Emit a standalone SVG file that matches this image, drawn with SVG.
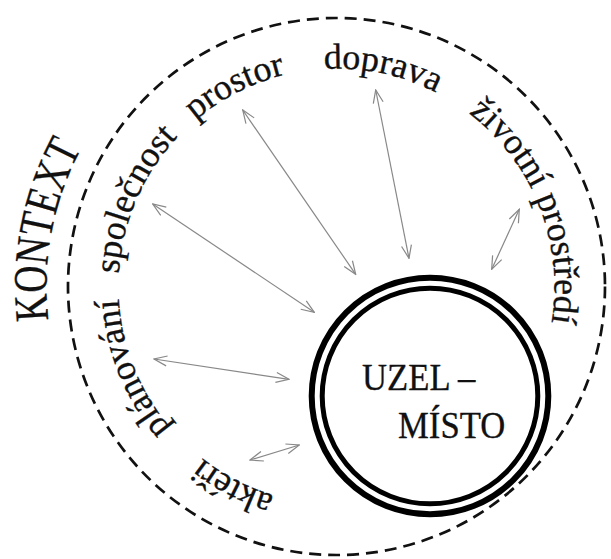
<svg xmlns="http://www.w3.org/2000/svg" width="611" height="559" viewBox="0 0 611 559">
<style>
.lbl{font-family:"Liberation Serif","Times New Roman",serif;font-size:36px;fill:#111;stroke:#111;stroke-width:0.35;}
.ctx{font-family:"Liberation Serif","Times New Roman",serif;font-size:48px;fill:#111;stroke:#111;stroke-width:0.3;}
.core{font-family:"Liberation Serif","Times New Roman",serif;font-size:37.5px;fill:#111;stroke:#111;stroke-width:0.3;}
.arr{stroke:#888;stroke-width:1.2;fill:none;marker-start:url(#ah);marker-end:url(#ah);}
</style>
<defs>
<marker id="ah" viewBox="-15 -8 16 16" refX="0" refY="0" markerWidth="16" markerHeight="16" markerUnits="userSpaceOnUse" orient="auto-start-reverse">
<path d="M-13,-5 L0,0 L-13,5" fill="none" stroke="#888" stroke-width="1.2"/>
</marker>
<path id="lp" d="M336.5,504.5 A218,218 0 1 1 336.5,68.5 A218,218 0 1 1 336.5,504.5"/>
</defs>
<g id="context">
<circle cx="336.5" cy="286.5" r="268.5" fill="none" stroke="#111" stroke-width="2.7" stroke-dasharray="12 7"/>
<g class="ctx" text-anchor="middle">
<text transform="translate(47.21,306.73) rotate(266) scale(0.78,1)">K</text>
<text transform="translate(46.58,279.46) rotate(271.39) scale(0.78,1)">O</text>
<text transform="translate(48.53,252.26) rotate(276.78) scale(0.78,1)">N</text>
<text transform="translate(52.58,227.44) rotate(281.75) scale(0.78,1)">T</text>
<text transform="translate(58.17,205.07) rotate(286.31) scale(0.78,1)">E</text>
<text transform="translate(66.28,181.26) rotate(291.28) scale(0.78,1)">X</text>
<text transform="translate(76.41,158.24) rotate(296.25) scale(0.78,1)">T</text>
</g>
</g>
<g id="node-uzel">
<circle cx="430" cy="396" r="118.3" fill="none" stroke="#000" stroke-width="6"/>
<circle cx="430" cy="396" r="107.8" fill="none" stroke="#000" stroke-width="5"/>
<text class="core" transform="translate(362,390) scale(0.925,1)">UZEL –</text>
<text class="core" transform="translate(398,438) scale(0.925,1)">MÍSTO</text>
</g>
<g id="label-akteri"><text class="lbl"><textPath href="#lp" startOffset="104" text-anchor="middle">aktéři</textPath></text></g>
<g id="label-planovani"><text class="lbl"><textPath href="#lp" startOffset="259" text-anchor="middle">plánování</textPath></text></g>
<g id="label-spolecnost"><text class="lbl"><textPath href="#lp" startOffset="431" text-anchor="middle">společnost</textPath></text></g>
<g id="label-prostor"><text class="lbl"><textPath href="#lp" startOffset="582" text-anchor="middle">prostor</textPath></text></g>
<g id="label-doprava"><text class="lbl"><textPath href="#lp" startOffset="730" text-anchor="middle">doprava</textPath></text></g>
<g id="label-zivotni"><text class="lbl"><textPath href="#lp" startOffset="945" text-anchor="middle">životní prostředí</textPath></text></g>
<g id="connectors">
<line class="arr" x1="242.7" y1="110" x2="355.7" y2="274.3"/>
<line class="arr" x1="152.7" y1="204" x2="314.3" y2="312.3"/>
<line class="arr" x1="375.7" y1="90" x2="409" y2="258.3"/>
<line class="arr" x1="519.3" y1="209.3" x2="491.7" y2="269.3"/>
<line class="arr" x1="154" y1="359" x2="289" y2="379.3"/>
<line class="arr" x1="250" y1="460" x2="299.3" y2="445"/>
</g>
</svg>
